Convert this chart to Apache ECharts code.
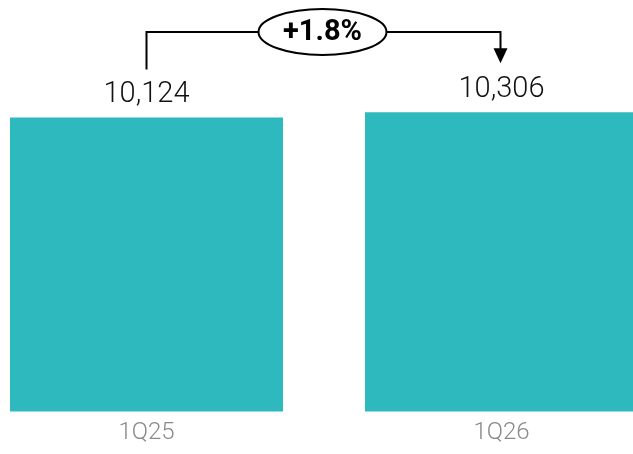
<!DOCTYPE html>
<html><head><meta charset="utf-8">
<script src="https://cdn.jsdelivr.net/npm/echarts@6/dist/echarts.min.js"></script>
<style>html,body{margin:0;padding:0;background:#fff;overflow:hidden;width:633px;height:454px}#c{width:710px;height:454px;margin-left:-31px}</style>
</head><body><div id="c"></div>
<script>
const categories = ['1Q25', '1Q26'];
const values = [10124, 10306];
const changeLabel = '+1.8%';

const chart = echarts.init(document.getElementById('c'));
chart.setOption({
  animation: false,
  grid: {left: 0, right: 0, top: 5, bottom: 42.5, containLabel: false},
  xAxis: {
    type: 'category', data: categories,
    axisLine: {show: false}, axisTick: {show: false},
    axisLabel: {color: '#8a8a8a', fontFamily: 'Roboto', fontWeight: 300, fontSize: 24, margin: 9}
  },
  yAxis: {type: 'value', min: 0, max: 14000, show: false, splitLine: {show: false}},
  series: [{
    type: 'bar', data: values, barWidth: 273, itemStyle: {color: '#2DB9BD'},
    label: {
      show: true, position: 'top', distance: 8, color: '#111',
      fontFamily: 'Roboto', fontWeight: 300, fontSize: 29,
      formatter: p => p.value.toLocaleString('en-US')
    }
  }]
});

const p1 = chart.convertToPixel({seriesIndex: 0}, [0, values[0]]);
const p2 = chart.convertToPixel({seriesIndex: 0}, [1, values[1]]);
const hy = 32;
const ex = (p1[0] + p2[0]) / 2 - 1.5, rx = 64, ry = 23;
const lineStyle = {stroke: '#000', lineWidth: 2};
chart.setOption({
  graphic: [
    {type: 'polyline', shape: {points: [[p1[0], p1[1] - 48], [p1[0], hy], [ex - rx, hy]]}, style: lineStyle},
    {type: 'polyline', shape: {points: [[ex + rx, hy], [p2[0] - 1, hy], [p2[0] - 1, p2[1] - 63]]}, style: lineStyle},
    {type: 'polygon', shape: {points: [[p2[0] - 8, p2[1] - 64], [p2[0] + 6, p2[1] - 64], [p2[0] - 1, p2[1] - 49]]}, style: {fill: '#000'}},
    {type: 'ellipse', shape: {cx: ex, cy: hy, rx: rx, ry: ry}, style: {fill: '#fff', stroke: '#000', lineWidth: 2}},
    {type: 'text', x: ex, y: hy + 1, style: {text: changeLabel, fill: '#000', font: 'bold 29px Roboto', align: 'center', verticalAlign: 'middle'}}
  ]
});
</script></body></html>
